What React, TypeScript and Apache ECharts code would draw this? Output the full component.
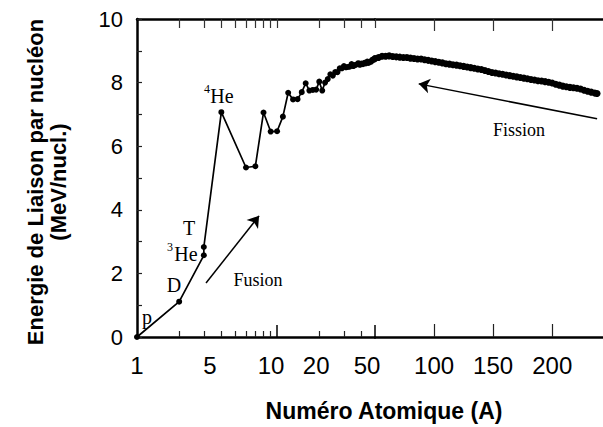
import React, { useEffect, useRef } from 'react';
import * as echarts from 'echarts';

// Light nuclei (A = 1 .. 50), binding energy per nucleon (MeV)
const lightA = [1, 2, 3, 3, 4, 6, 7, 8, 9, 10, 11, 12, 13, 14, 15, 16, 17, 18, 19, 20, 21, 22, 23, 24, 25, 26, 27, 28, 29, 30, 31, 32, 33, 34, 35, 36, 37, 38, 39, 40, 41, 42, 43, 44, 45, 46, 47, 48, 49, 50];
const lightE = [0, 1.11, 2.57, 2.83, 7.07, 5.33, 5.37, 7.06, 6.46, 6.47, 6.93, 7.68, 7.47, 7.48, 7.70, 7.98, 7.75, 7.77, 7.78, 8.03, 7.75, 8.00, 8.11, 8.26, 8.22, 8.33, 8.33, 8.45, 8.45, 8.52, 8.48, 8.49, 8.50, 8.58, 8.52, 8.55, 8.57, 8.61, 8.56, 8.60, 8.58, 8.62, 8.60, 8.66, 8.62, 8.66, 8.66, 8.72, 8.71, 8.76];

// Heavier nuclei (A = 50 .. 238)
const heavyA = [50, 53, 56, 59, 62, 65, 68, 71, 74, 77, 80, 83, 86, 89, 92, 95, 98, 101, 104, 107, 110, 113, 116, 119, 122, 125, 128, 131, 134, 137, 140, 143, 146, 149, 152, 155, 158, 161, 164, 167, 170, 173, 176, 179, 182, 185, 188, 191, 194, 197, 200, 203, 206, 209, 212, 215, 218, 221, 224, 227, 230, 233, 236, 238];
const heavyE = [8.76, 8.79, 8.83, 8.83, 8.84, 8.82, 8.81, 8.80, 8.79, 8.79, 8.77, 8.76, 8.74, 8.74, 8.72, 8.70, 8.68, 8.66, 8.64, 8.62, 8.59, 8.58, 8.56, 8.55, 8.53, 8.51, 8.49, 8.47, 8.45, 8.43, 8.41, 8.38, 8.35, 8.32, 8.30, 8.28, 8.26, 8.24, 8.22, 8.20, 8.18, 8.16, 8.14, 8.12, 8.10, 8.08, 8.06, 8.05, 8.03, 8.01, 7.99, 7.95, 7.92, 7.89, 7.87, 7.85, 7.84, 7.82, 7.80, 7.76, 7.73, 7.70, 7.67, 7.66];

// Tick labels of the atomic-number axis and the axis values they sit at
const lowTickLabels = ['1', '5', '10', '20', '50'];
const lowTickValues = [1, 3.32, 9.06, 19, 43.9];
const highTickLabels = ['100', '150', '200'];
const highTickValues = [100, 150, 200];

// Scanned tick marks
const lowMinorTicks = [2, 3, 4, 5, 6, 7, 8, 9, 20, 30, 40];
const lowMajorTicks = [10, 50];
const lowTopTicks = [2, 3, 4, 5, 6, 7, 8, 9, 10, 20, 30, 40, 50];
const highTicks = [100, 150, 200];

const yTickLabels = ['0', '2', '4', '6', '8', '10'];

// Arrows (annotations) in data coordinates
const fusionArrow = [[3.11, 1.7], [7.44, 3.81]];
const fissionArrow = [[238, 6.86], [87, 7.96]];

const SANS = 'Liberation Sans, Arial, Helvetica, sans-serif';
const SERIF = 'Liberation Serif, Times New Roman, serif';

export default function App() {
  const ref = useRef<HTMLDivElement>(null);

  useEffect(() => {
    if (!ref.current) return;
    const chart = echarts.init(ref.current, undefined, { renderer: 'svg' });

    const labelFor = (values: number[], labels: string[]) => (v: number) => {
      let best = 0;
      let bd = Infinity;
      values.forEach((x, i) => {
        const d = Math.abs(x - v);
        if (d < bd) { bd = d; best = i; }
      });
      return bd < 0.5 ? labels[best] : '';
    };

    const lineAxis = { show: true, lineStyle: { color: '#000', width: 2.5 } };
    const noSplit = { show: false };

    const option: any = {
      animation: false,
      backgroundColor: '#fff',
      grid: [
        { left: 137, top: 19, width: 238, height: 318 },
        { left: 375, top: 19, width: 229, height: 318 },
      ],
      xAxis: [
        {
          gridIndex: 0, type: 'log', logBase: 10, min: 1, max: 50, position: 'bottom',
          axisLine: lineAxis,
          axisTick: { show: true, inside: true, length: 6, customValues: lowMinorTicks, lineStyle: { color: '#222', width: 1.2 } },
          axisLabel: {
            show: true, customValues: lowTickValues, formatter: labelFor(lowTickValues, lowTickLabels),
            color: '#000', fontFamily: SANS, fontSize: 24, margin: 16, showMinLabel: true, showMaxLabel: true,
          },
          splitLine: noSplit,
        },
        {
          gridIndex: 0, type: 'log', logBase: 10, min: 1, max: 50, position: 'bottom',
          axisLine: { show: false },
          axisTick: { show: true, inside: true, length: 12, customValues: lowMajorTicks, lineStyle: { color: '#000', width: 1.5 } },
          axisLabel: { show: false },
          splitLine: noSplit,
        },
        {
          gridIndex: 0, type: 'log', logBase: 10, min: 1, max: 50, position: 'top',
          axisLine: lineAxis,
          axisTick: { show: true, inside: true, length: 9, customValues: lowTopTicks, lineStyle: { color: '#333', width: 1.2 } },
          axisLabel: { show: false },
          splitLine: noSplit,
        },
        {
          gridIndex: 1, type: 'value', min: 50, max: 243, position: 'bottom',
          axisLine: lineAxis,
          axisTick: { show: true, inside: true, length: 13, customValues: highTicks, lineStyle: { color: '#222', width: 1.2 } },
          axisLabel: {
            show: true, customValues: highTickValues, formatter: labelFor(highTickValues, highTickLabels),
            color: '#000', fontFamily: SANS, fontSize: 24, margin: 16,
          },
          splitLine: noSplit,
        },
        {
          gridIndex: 1, type: 'value', min: 50, max: 243, position: 'top',
          axisLine: lineAxis,
          axisTick: { show: true, inside: true, length: 12, customValues: highTicks, lineStyle: { color: '#333', width: 1.2 } },
          axisLabel: { show: false },
          splitLine: noSplit,
        },
      ],
      yAxis: [
        {
          gridIndex: 0, type: 'value', min: 0, max: 10, interval: 1,
          axisLine: lineAxis,
          axisTick: { show: true, inside: true, length: 5, lineStyle: { color: '#222', width: 1.2 } },
          axisLabel: {
            color: '#000', fontFamily: SANS, fontSize: 22, margin: 14,
            formatter: (v: number) => (yTickLabels.includes(String(v)) ? String(v) : ''),
          },
          splitLine: noSplit,
        },
        { gridIndex: 1, type: 'value', min: 0, max: 10, show: false, splitLine: noSplit },
      ],
      series: [
        {
          type: 'line', xAxisIndex: 0, yAxisIndex: 0,
          data: lightA.map((a, i) => [a, lightE[i]]),
          symbol: 'circle', symbolSize: 6, showSymbol: true,
          itemStyle: { color: '#000' }, lineStyle: { color: '#000', width: 1.7 },
          markLine: {
            silent: true, symbol: ['none', 'arrow'], symbolSize: 11,
            lineStyle: { color: '#000', width: 1.5, type: 'solid' }, label: { show: false },
            data: [[{ coord: fusionArrow[0] }, { coord: fusionArrow[1] }]],
          },
        },
        {
          type: 'line', xAxisIndex: 3, yAxisIndex: 1,
          data: heavyA.map((a, i) => [a, heavyE[i]]),
          symbol: 'circle', symbolSize: 7, showSymbol: true,
          itemStyle: { color: '#000' }, lineStyle: { color: '#000', width: 2.5 },
          markLine: {
            silent: true, symbol: ['none', 'arrow'], symbolSize: 11,
            lineStyle: { color: '#000', width: 1.5, type: 'solid' }, label: { show: false },
            data: [[{ coord: fissionArrow[0] }, { coord: fissionArrow[1] }]],
          },
        },
      ],
      graphic: [
        { type: 'text', x: 147, y: 317, style: { text: 'p', font: `20px ${SERIF}`, fill: '#000', align: 'center', verticalAlign: 'middle' } },
        { type: 'text', x: 174, y: 285, style: { text: 'D', font: `20px ${SERIF}`, fill: '#000', align: 'center', verticalAlign: 'middle' } },
        { type: 'text', x: 189, y: 228, style: { text: 'T', font: `20px ${SERIF}`, fill: '#000', align: 'center', verticalAlign: 'middle' } },
        { type: 'text', x: 170, y: 247, style: { text: '3', font: `12px ${SERIF}`, fill: '#000', align: 'center', verticalAlign: 'middle' } },
        { type: 'text', x: 186, y: 254, style: { text: 'He', font: `20px ${SERIF}`, fill: '#000', align: 'center', verticalAlign: 'middle' } },
        { type: 'text', x: 207, y: 89, style: { text: '4', font: `12px ${SERIF}`, fill: '#000', align: 'center', verticalAlign: 'middle' } },
        { type: 'text', x: 222, y: 96, style: { text: 'He', font: `20px ${SERIF}`, fill: '#000', align: 'center', verticalAlign: 'middle' } },
        { type: 'text', x: 258, y: 280, style: { text: 'Fusion', font: `18px ${SERIF}`, fill: '#000', align: 'center', verticalAlign: 'middle' } },
        { type: 'text', x: 519, y: 130, style: { text: 'Fission', font: `18px ${SERIF}`, fill: '#000', align: 'center', verticalAlign: 'middle' } },
        { type: 'text', x: 384, y: 411, style: { text: 'Numéro Atomique (A)', font: `bold 23px ${SANS}`, fill: '#000', align: 'center', verticalAlign: 'middle' } },
        {
          type: 'text', x: 47, y: 182, rotation: Math.PI / 2,
          style: { text: 'Energie de Liaison par nucléon\n(MeV/nucl.)', font: `bold 22px ${SANS}`, lineHeight: 23, fill: '#000', align: 'center', verticalAlign: 'middle' },
        },
      ],
    };

    chart.setOption(option);
    return () => chart.dispose();
  }, []);

  return <div ref={ref} style={{ position: 'fixed', left: 0, top: 0, width: 603, height: 427, background: '#fff' }} />;
}
